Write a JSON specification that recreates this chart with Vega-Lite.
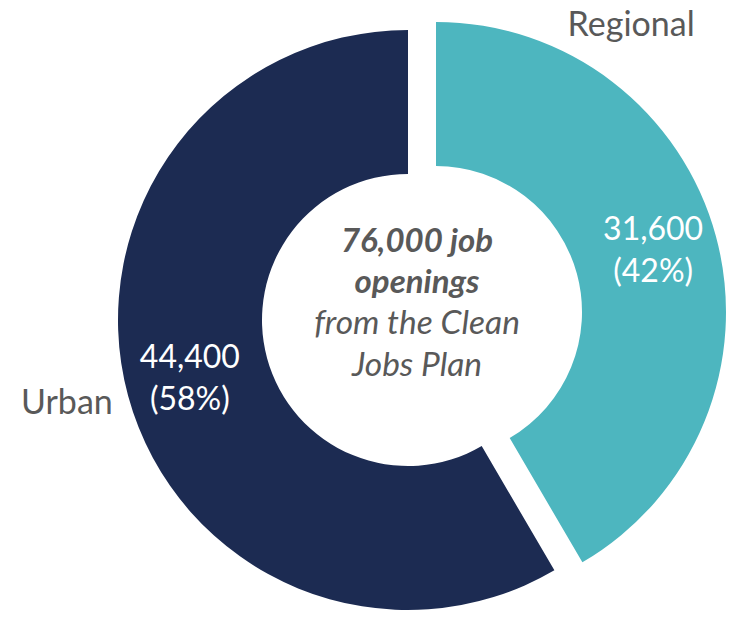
{
  "$schema": "https://vega.github.io/schema/vega-lite/v6.json",
  "width": 672,
  "height": 600,
  "autosize": {"type": "none"},
  "padding": {"left": 72, "top": 20, "right": 0, "bottom": 0},
  "background": "white",
  "config": {"view": {"stroke": null}},
  "data": {
    "values": [
      {"cat": "Regional", "value": 31600, "ord": 1, "lab": "31,600\n(42%)"},
      {"cat": "Urban", "value": 44400, "ord": 2, "lab": "44,400\n(58%)"}
    ]
  },
  "layer": [
    {
      "mark": {
        "type": "arc",
        "outerRadius": 290,
        "innerRadius": 146,
        "xOffset": {"expr": "datum.cat === 'Regional' ? 28 : 0"},
        "yOffset": {"expr": "datum.cat === 'Regional' ? -8 : 0"}
      },
      "encoding": {
        "theta": {"field": "value", "type": "quantitative", "stack": true},
        "order": {"field": "ord", "type": "quantitative"},
        "color": {
          "field": "cat",
          "type": "nominal",
          "scale": {"domain": ["Regional", "Urban"], "range": ["#4db6bf", "#1c2b52"]},
          "legend": null
        }
      }
    },
    {
      "mark": {
        "type": "text",
        "radius": 226,
        "font": "Lato",
        "fontSize": 32,
        "lineHeight": 42,
        "lineBreak": "\n",
        "align": "center",
        "baseline": "middle",
        "fill": "white",
        "dx": {"expr": "datum.cat === 'Regional' ? 27 : 0"},
        "dy": {"expr": "datum.cat === 'Regional' ? -31 : -21"}
      },
      "encoding": {
        "theta": {"field": "value", "type": "quantitative", "stack": true},
        "order": {"field": "ord", "type": "quantitative"},
        "text": {"field": "lab"}
      }
    },
    {
      "mark": {
        "type": "text",
        "radius": 226,
        "font": "Lato",
        "fontSize": 34,
        "align": "center",
        "baseline": "middle",
        "fill": "#595959",
        "dx": {"expr": "datum.cat === 'Regional' ? 5 : -123"},
        "dy": {"expr": "datum.cat === 'Regional' ? -235 : 25"}
      },
      "encoding": {
        "theta": {"field": "value", "type": "quantitative", "stack": true},
        "order": {"field": "ord", "type": "quantitative"},
        "text": {"field": "cat"}
      }
    },
    {
      "data": {"values": [{"t": "76,000 job\nopenings"}]},
      "mark": {
        "type": "text",
        "font": "Lato",
        "fontSize": 33,
        "fontWeight": "bold",
        "fontStyle": "italic",
        "lineHeight": 41,
        "lineBreak": "\n",
        "align": "center",
        "baseline": "middle",
        "fill": "#595959",
        "dx": 9,
        "dy": -78
      },
      "encoding": {"text": {"field": "t"}}
    },
    {
      "data": {"values": [{"t": "from the Clean\nJobs Plan"}]},
      "mark": {
        "type": "text",
        "font": "Lato",
        "fontSize": 33.5,
        "fontStyle": "italic",
        "lineHeight": 42,
        "lineBreak": "\n",
        "align": "center",
        "baseline": "middle",
        "fill": "#595959",
        "dx": 9,
        "dy": 4
      },
      "encoding": {"text": {"field": "t"}}
    }
  ]
}
